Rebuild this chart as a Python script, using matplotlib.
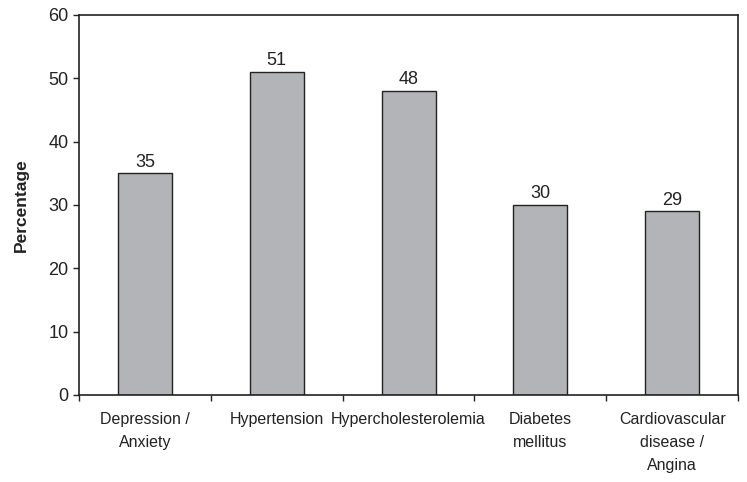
import matplotlib.pyplot as plt
import numpy as np

categories = ["Depression /\nAnxiety", "Hypertension", "Hypercholesterolemia",
              "Diabetes\nmellitus", "Cardiovascular\ndisease /\nAngina"]
values = [35, 51, 48, 30, 29]
yticks = [0, 10, 20, 30, 40, 50, 60]

plt.rcParams['font.family'] = ['Liberation Sans', 'DejaVu Sans']

fig = plt.figure(figsize=(7.47, 4.82), dpi=100)
ax = fig.add_axes([0.1058, 0.1805, 0.8822, 0.7885])

x = np.arange(len(categories))
ax.bar(x, values, width=0.41, color='#b3b4b7', edgecolor='#222222', linewidth=1.0)
for xi, v in zip(x, values):
    ax.text(xi, v + 0.4, str(v), ha='center', va='bottom', fontsize=13, color='#222222')

ax.set_xlim(-0.5, len(categories) - 0.5)
ax.set_ylim(0, 60)
ax.set_yticks(yticks)
ax.set_yticklabels([str(t) for t in yticks], fontsize=13, color='#222222')
# major ticks sit between the categories, labels on minor ticks
ax.set_xticks(np.arange(len(categories) + 1) - 0.5)
ax.set_xticklabels([])
ax.set_xticks(x, minor=True)
ax.set_xticklabels(categories, minor=True, fontsize=11.5, color='#222222', linespacing=1.68)
ax.tick_params(axis='x', which='minor', length=0, pad=12)
ax.tick_params(axis='both', which='major', length=4, width=1, color='#222222', direction='out')
for s in ax.spines.values():
    s.set_color('#222222')
    s.set_linewidth(1.2)

ax.set_ylabel("Percentage", fontsize=12.5, fontweight='bold', color='#222222', labelpad=14)

fig.savefig("out.png", dpi=100)
